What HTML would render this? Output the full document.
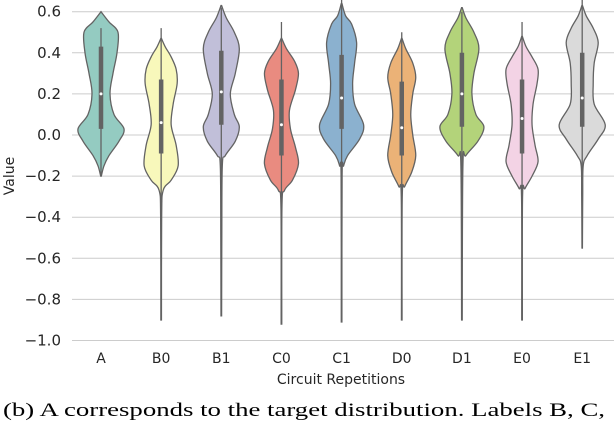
<!DOCTYPE html>
<html><head><meta charset="utf-8"><style>
body{margin:0;background:#fff;width:614px;height:422px;overflow:hidden}
svg text{font-family:"DejaVu Sans","Liberation Sans",sans-serif;fill:#262626}
</style></head><body>
<svg id="chart" width="614" height="422" xmlns="http://www.w3.org/2000/svg">
<g id="grid"></g>
<g id="violins"></g>
<g id="yticks"></g>
<g id="xticks"></g>
<text transform="translate(14,176) rotate(-90)" text-anchor="middle" font-size="14">Value</text>
<text x="341" y="384" text-anchor="middle" font-size="14">Circuit Repetitions</text>
<text x="3" y="416" font-size="19" textLength="602" lengthAdjust="spacingAndGlyphs" style="font-family:'Liberation Serif',serif;fill:#000">(b) A corresponds to the target distribution. Labels B, C,</text>
</svg>
<script>
const categories=["A","B0","B1","C0","C1","D0","D1","E0","E1"];
const colors=["#94cbc1","#f8f8bb","#c1bfd9","#e98b80","#8bb1cf","#ebb277","#b3d37a","#f3d3e5","#dadada"];
const yTicks=[0.6,0.4,0.2,0.0,-0.2,-0.4,-0.6,-0.8,-1.0];
const yTickLabels=["0.6","0.4","0.2","0.0","\u22120.2","\u22120.4","\u22120.6","\u22120.8","\u22121.0"];
const medians=[0.2,0.06,0.21,0.05,0.18,0.035,0.2,0.08,0.18];
const q1=[0.03,-0.09,0.05,-0.1,0.03,-0.1,0.04,-0.09,0.04];
const q3=[0.43,0.27,0.41,0.27,0.39,0.26,0.4,0.27,0.4];
const whiskTop=[0.52,0.52,0.62,0.55,0.66,0.5,0.6,0.55,0.66];
const whiskBot=[-0.2,-0.9,-0.88,-0.92,-0.91,-0.9,-0.9,-0.9,-0.55];
const profiles=[
[[0.6,0],[0.55,8],[0.5,17],[0.4,16],[0.3,12],[0.2,9],[0.1,13],[0.03,23],[-0.03,18],[-0.1,8],[-0.15,3],[-0.2,0.3]],
[[0.47,0.3],[0.43,4],[0.38,10],[0.32,15],[0.25,16],[0.15,12],[0.05,10],[-0.05,15],[-0.15,17],[-0.22,10],[-0.27,2],[-0.4,0.5],[-0.9,0.3]],
[[0.63,0.3],[0.57,5],[0.5,13],[0.42,18],[0.3,14],[0.2,9],[0.1,13],[0.04,18],[-0.03,14],[-0.1,4],[-0.15,1],[-0.5,0.5],[-0.88,0.3]],
[[0.47,0.3],[0.42,5],[0.36,13],[0.3,17],[0.22,14],[0.12,8],[0.03,9],[-0.06,14],[-0.14,17],[-0.22,11],[-0.27,3],[-0.35,0.5],[-0.92,0.3]],
[[0.64,0.3],[0.58,4],[0.54,10],[0.45,15],[0.35,13],[0.25,11],[0.15,13],[0.05,22],[-0.02,18],[-0.1,6],[-0.15,2],[-0.2,0.5],[-0.91,0.3]],
[[0.47,0.3],[0.42,4],[0.35,11],[0.28,14],[0.2,11],[0.1,9],[0.0,11],[-0.1,14],[-0.18,10],[-0.25,3],[-0.3,0.5],[-0.9,0.3]],
[[0.62,0.3],[0.57,4],[0.5,12],[0.42,17],[0.3,12],[0.2,10],[0.1,14],[0.04,22],[-0.03,16],[-0.1,4],[-0.15,1],[-0.9,0.3]],
[[0.48,0.3],[0.43,4],[0.38,10],[0.32,16],[0.25,15],[0.15,11],[0.05,10],[-0.05,13],[-0.13,16],[-0.2,10],[-0.26,3],[-0.3,0.5],[-0.9,0.3]],
[[0.63,0.3],[0.58,4],[0.52,11],[0.45,16],[0.35,12],[0.25,11],[0.15,12],[0.05,23],[-0.02,16],[-0.1,5],[-0.15,1],[-0.3,0.5],[-0.55,0.2]]
];
const NS="http://www.w3.org/2000/svg";
function yScale(v){return 135-v*205.5;}
function xScale(i){return 101+i*60.15;}
function mk(tag,attrs,parent){const e=document.createElementNS(NS,tag);for(const k in attrs)e.setAttribute(k,attrs[k]);parent.appendChild(e);return e;}
const grid=document.getElementById('grid'),yt=document.getElementById('yticks'),xt=document.getElementById('xticks'),vg=document.getElementById('violins');
yTicks.forEach((v,i)=>{
  const l=mk('line',{x1:72,x2:614,y1:yScale(v),y2:yScale(v),stroke:'#cccccc','stroke-width':1},grid);
  
  
  const t=mk('text',{x:61,y:yScale(v)+5,'text-anchor':'end','font-size':15},yt);
  t.textContent=yTickLabels[i];
  
  
});
function smooth(pts){
  let d="M"+pts[0][0]+","+pts[0][1];
  for(let i=0;i<pts.length-1;i++){
    const p0=pts[i-1]||pts[i],p1=pts[i],p2=pts[i+1],p3=pts[i+2]||p2;
    const c1=[p1[0]+(p2[0]-p0[0])/6,p1[1]+(p2[1]-p0[1])/6];
    const c2=[p2[0]-(p3[0]-p1[0])/6,p2[1]-(p3[1]-p1[1])/6];
    d+=" C"+c1[0].toFixed(2)+","+c1[1].toFixed(2)+" "+c2[0].toFixed(2)+","+c2[1].toFixed(2)+" "+p2[0].toFixed(2)+","+p2[1].toFixed(2);
  }
  return d;
}
categories.forEach((c,i)=>{
  const cx=xScale(i),prof=profiles[i];
  const g=mk('g',{},vg);
  
  
  const right=prof.map(p=>[cx+p[1],yScale(p[0])]);
  const left=prof.slice().reverse().map(p=>[cx-p[1],yScale(p[0])]);
  const d=smooth(right)+" L"+smooth(left).slice(1)+" Z";
  const body=mk('path',{d:d,fill:colors[i],stroke:'#636363','stroke-width':1.3},g);
  
  
  const w=mk('line',{x1:cx,x2:cx,y1:yScale(whiskTop[i]),y2:yScale(whiskBot[i]),stroke:'#636363','stroke-width':1.3},g);
  
  
  const b=mk('line',{x1:cx,x2:cx,y1:yScale(q3[i]),y2:yScale(q1[i]),stroke:'#636363','stroke-width':4.5},g);
  
  
  const m=mk('circle',{cx:cx,cy:yScale(medians[i]),r:1.5,fill:'#fff'},g);
  
  
  const t=mk('text',{x:cx,y:363,'text-anchor':'middle','font-size':14},xt);
  t.textContent=c;
  
  
});
</script>
</body></html>
